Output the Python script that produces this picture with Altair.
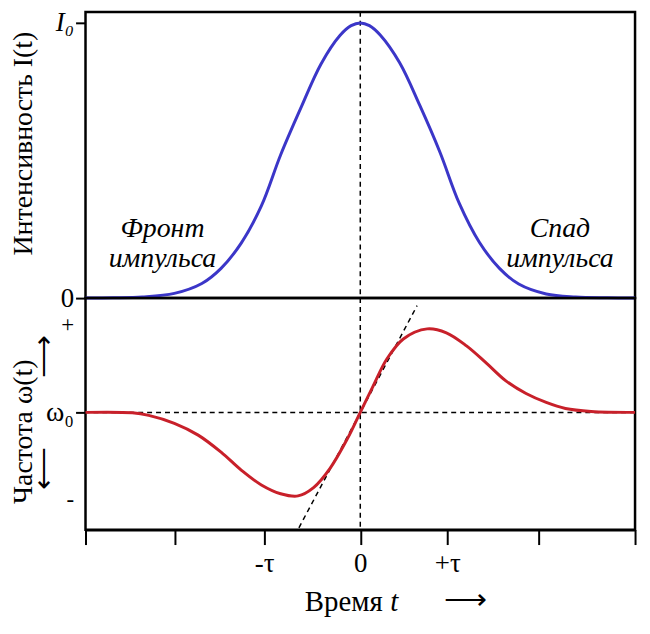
import altair as alt
import pandas as pd

FONT = "Liberation Serif"

# Intensity pulse I(t) (t in units of tau, I in units of I0)
t_int = [-3.0, -2.7, -2.38, -2.03, -1.73, -1.52, -1.30, -1.08, -0.87, -0.65, -0.43, -0.22, -0.10,
         0.0, 0.10, 0.22, 0.43, 0.65, 0.87, 1.08, 1.30, 1.52, 1.73, 2.03, 2.35, 2.7, 3.0]
intensity = [0.0, 0.001, 0.004, 0.017, 0.053, 0.108, 0.20, 0.335, 0.52, 0.69, 0.85, 0.955, 0.99,
             1.0, 0.99, 0.955, 0.855, 0.70, 0.53, 0.345, 0.203, 0.108, 0.051, 0.015, 0.004, 0.001, 0.0]

# Instantaneous frequency offset omega(t) - omega0
t_freq = [-3.0, -2.49, -2.31, -2.03, -1.77, -1.52, -1.30, -1.08, -0.87, -0.68, -0.51, -0.33, -0.14,
          0.0, 0.14, 0.29, 0.47, 0.73, 0.94, 1.16, 1.38, 1.59, 1.81, 2.03, 2.24, 2.52, 3.0]
freq = [0.0, -0.005, -0.034, -0.125, -0.26, -0.455, -0.66, -0.83, -0.93, -0.955, -0.86, -0.64, -0.30,
        0.0, 0.30, 0.61, 0.84, 0.955, 0.91, 0.76, 0.56, 0.36, 0.216, 0.114, 0.045, 0.011, 0.0]

# Tangent at t = 0
tan_t = [-0.67, 0.62]
tan_w = [-1.32, 1.22]

# Axis ticks and labels
x_ticks = [-3.0, -2.02, -1.05, 0.0, 0.95, 1.95, 3.0]
x_tick_labels = ["", "", "-τ", "0", "+τ", "", ""]
i_ticks = [0, 1]
i_tick_labels = ["0", "I₀"]
w_ticks = [-1, 0, 1]
w_tick_labels = ["-", "ω₀", "+"]

# Annotations
ann_t = [-2.16, 2.18]
ann_i = [0.25, 0.25]
ann_text = ["Фронт\nимпульса", "Спад\nимпульса"]
arrow_w = [0.64, -0.64]
arrow_angle = [270, 90]


def label_expr(values, labels):
    expr = "''"
    for v, l in zip(reversed(values), reversed(labels)):
        expr = f"datum.value == {v} ? '{l}' : ({expr})"
    return expr


W = 553
H_TOP = 288
H_BOT = 233
xscale = alt.Scale(domain=[-3, 3], nice=False, zero=False)
dash = [5, 4]

df_int = pd.DataFrame({"t": t_int, "I": intensity})
df_freq = pd.DataFrame({"t": t_freq, "w": freq})
df_tan = pd.DataFrame({"t": tan_t, "w": tan_w})
df_ann = pd.DataFrame({"t": ann_t, "I": ann_i, "label": ann_text})
df_arrow = pd.DataFrame({"w": arrow_w, "a": arrow_angle, "s": ["⟶", "⟶"]})
df_zero = pd.DataFrame({"t": [0.0]})
df_w0 = pd.DataFrame({"w": [0.0]})

# ---------- top panel ----------
y_int = alt.Y(
    "I:Q",
    scale=alt.Scale(domain=[0, 1.04], nice=False, zero=False),
    axis=alt.Axis(
        values=i_ticks, labelExpr=label_expr(i_ticks, i_tick_labels),
        tickSize=10, tickWidth=2, tickColor="black", domain=False, grid=False,
        labelPadding=2, labelFontSize=27,
        labelFontStyle={"condition": {"test": "datum.value == 1", "value": "italic"}, "value": "normal"},
        title="Интенсивность I(t)", titleX=-54, titleY=132, titleAngle=270,
        titleAlign="center", titleBaseline="alphabetic", titleFontSize=28,
    ),
)
blue = alt.Chart(df_int).mark_line(color="#3b36c8", strokeWidth=3, interpolate="catmull-rom").encode(
    x=alt.X("t:Q", scale=xscale, axis=None), y=y_int
)
vrule_top = alt.Chart(df_zero).mark_rule(color="black", strokeDash=dash, strokeWidth=1.5).encode(
    x=alt.X("t:Q", scale=xscale, axis=None)
)
texts = alt.Chart(df_ann).mark_text(
    font=FONT, fontSize=28, fontStyle="italic", lineBreak="\n", lineHeight=30,
    align="center", baseline="middle", color="black"
).encode(x=alt.X("t:Q", scale=xscale, axis=None), y=alt.Y("I:Q"), text="label:N")

top = alt.layer(vrule_top, blue, texts).properties(width=W, height=H_TOP)

# ---------- bottom panel ----------
y_freq = alt.Y(
    "w:Q",
    scale=alt.Scale(domain=[-1.341, 1.307], nice=False, zero=False),
    axis=alt.Axis(
        values=w_ticks, labelExpr=label_expr(w_ticks, w_tick_labels),
        tickSize=10, tickWidth=2, tickColor="black", domain=False, grid=False,
        tickOpacity={"condition": {"test": "datum.value == 0", "value": 1}, "value": 0},
        labelPadding=2,
        labelFontSize={"condition": {"test": "datum.value == 0", "value": 28}, "value": 23},
        title="Частота ω(t)", titleX=-54, titleY=134, titleAngle=270,
        titleAlign="center", titleBaseline="alphabetic", titleFontSize=28,
    ),
)
x_bot = alt.X(
    "t:Q", scale=xscale,
    axis=alt.Axis(
        values=x_ticks, labelExpr=label_expr(x_ticks, x_tick_labels),
        tickSize=15, tickWidth=2, tickColor="black", domainColor="black", domainWidth=2.5,
        labelFontSize=27, labelPadding=6, labelOverlap=False, labelFlush=False,
        grid=False, title=None,
    ),
)
red = alt.Chart(df_freq).mark_line(color="#c8202a", strokeWidth=3, interpolate="catmull-rom").encode(
    x=x_bot, y=y_freq
)
hrule = alt.Chart(df_w0).mark_rule(color="black", strokeDash=dash, strokeWidth=1.5).encode(y="w:Q")
vrule_bot = alt.Chart(df_zero).mark_rule(color="black", strokeDash=dash, strokeWidth=1.5).encode(x="t:Q")
tangent = alt.Chart(df_tan).mark_line(color="black", strokeDash=dash, strokeWidth=1.5).encode(
    x="t:Q", y="w:Q"
)
arrows = alt.Chart(df_arrow).mark_text(fontSize=30, color="black", align="center", baseline="middle").encode(
    x=alt.value(-42), y="w:Q", text="s:N", angle=alt.Angle("a:Q", scale=None)
)
df_xl = pd.DataFrame({"t": [-0.18, 0.37], "s": ["Время", "t"]})
xlabel1 = alt.Chart(df_xl.iloc[[0]]).mark_text(
    font=FONT, fontSize=29, color="black", align="center", baseline="alphabetic"
).encode(x="t:Q", y=alt.value(315), text="s:N")
xlabel2 = alt.Chart(df_xl.iloc[[1]]).mark_text(
    font=FONT, fontSize=29, fontStyle="italic", color="black", align="center", baseline="alphabetic"
).encode(x="t:Q", y=alt.value(315), text="s:N")
xarrow = alt.Chart(pd.DataFrame({"t": [1.15], "s": ["⟶"]})).mark_text(
    fontSize=30, color="black", align="center", baseline="middle"
).encode(x="t:Q", y=alt.value(304), text="s:N")

bottom = alt.layer(hrule, vrule_bot, tangent, red, arrows, xlabel1, xlabel2, xarrow).properties(
    width=W, height=H_BOT
)

chart = alt.vconcat(top, bottom, spacing=0, bounds="flush").properties(
    padding={"left": 0, "top": -3, "right": -1, "bottom": -1},
    background="white",
).configure_view(stroke="black", strokeWidth=2.5).configure_axis(
    labelFont=FONT, titleFont=FONT, labelColor="black", titleColor="black", titleFontWeight="normal"
).configure_text(font=FONT)

chart.save("out.html", embed_options={"renderer": "svg", "actions": False})
